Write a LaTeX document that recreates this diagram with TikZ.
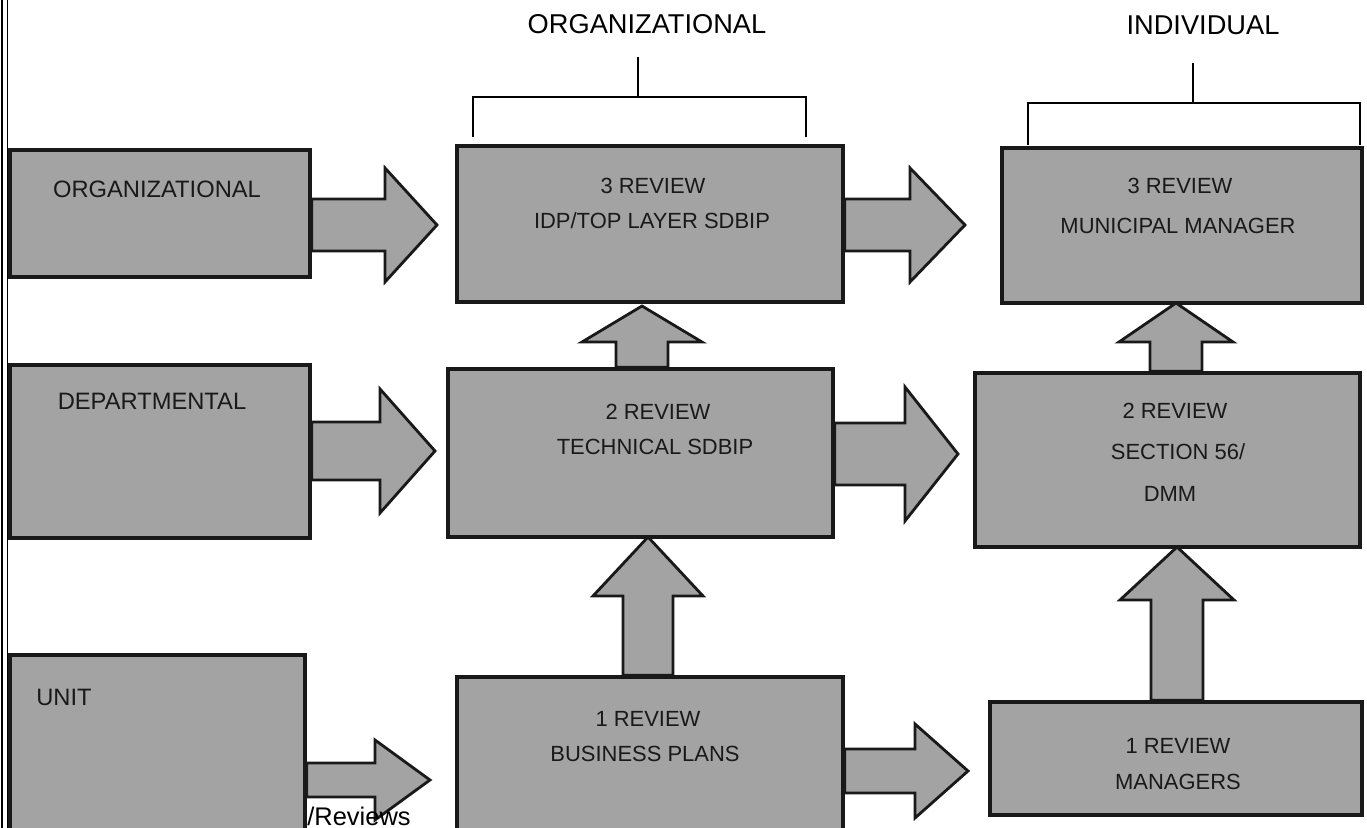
\documentclass[tikz,border=0pt]{standalone}
\usepackage{fontspec}
\setmainfont{Liberation Sans}
\usetikzlibrary{calc,fit}

\definecolor{boxfill}{gray}{0.64}
\definecolor{boxline}{gray}{0.1}

\tikzset{box/.style={draw=boxline,fill=boxfill,line width=1.9pt,inner sep=0pt},
box label/.style={font=\fontsize{12.5}{14}\selectfont,text=black!90,inner sep=0pt},
side label/.style={box label,font=\fontsize{13.5}{15}\selectfont},
heading/.style={font=\fontsize{15.5}{18}\selectfont,inner sep=0pt},
block arrow/.style={draw=boxline,fill=boxfill,line width=1.6pt,line join=miter},
bracket/.style={line width=0.7pt}}

% #1 start, #2 tip, #3 shaft half width, #4 head half width, #5 head length
\newcommand{\rightblock}[5]{%
\draw [block arrow] ($(#1 |- #2)+(0,-#3)$) -- ($(#2)+(-#5,-#3)$) -- ($(#2)+(-#5,-#4)$) -- (#2)
  -- ($(#2)+(-#5,#4)$) -- ($(#2)+(-#5,#3)$) -- ($(#1 |- #2)+(0,#3)$) -- cycle;}
\newcommand{\upblock}[5]{%
\draw [block arrow] ($(#1 -| #2)+(-#3,0)$) -- ($(#2)+(-#3,#5)$) -- ($(#2)+(-#4,#5)$) -- (#2)
  -- ($(#2)+(#4,#5)$) -- ($(#2)+(#3,#5)$) -- ($(#1 -| #2)+(#3,0)$) -- cycle;}

\begin{document}
\begin{tikzpicture}[x=0.02cm,y=-0.02cm]
\clip (0,0) rectangle (1367,828);

%% left margin rule
\draw [line width=1.6pt] (2,0) -- (2,828);
\draw [line width=0.5pt] (7,0) -- (7,828);

%% boxes
\node [box,fit={(10,150) (310,277)}] (org) {};
\node [box,fit={(10,365) (310,538)}] (dept) {};
\node [box,fit={(10,655) (305,840)}] (unit) {};
\node [box,fit={(457,146) (843,302)}] (mid3) {};
\node [box,fit={(448,369) (833,537)}] (mid2) {};
\node [box,fit={(457,677) (843,840)}] (mid1) {};
\node [box,fit={(1002,148) (1362,303)}] (ind3) {};
\node [box,fit={(975,373) (1360,547)}] (ind2) {};
\node [box,fit={(990,702) (1362,815)}] (ind1) {};

%% arrow tips
\coordinate (t1) at (437,225);
\coordinate (t2) at (965,225);
\coordinate (t3) at (435,451);
\coordinate (t4) at (958,454);
\coordinate (t5) at (430,780);
\coordinate (t6) at (968,771);
\coordinate (t7) at (642,306);
\coordinate (t8) at (648,537);
\coordinate (t9) at (1176,303);
\coordinate (t10) at (1177,547);

%% horizontal arrows
\rightblock{org.east}{t1}{26}{57}{52}
\rightblock{mid3.east}{t2}{26}{57}{55}
\rightblock{dept.east}{t3}{29}{62}{55}
\rightblock{mid2.east}{t4}{31}{67}{53}
\rightblock{unit.east}{t5}{17}{40}{55}
\rightblock{mid1.east}{t6}{22}{47}{53}

%% vertical arrows
\upblock{mid2.north}{t7}{26}{60}{36}
\upblock{mid1.north}{t8}{25}{55}{59}
\upblock{ind2.north}{t9}{26}{57}{39}
\upblock{ind1.north}{t10}{26}{57}{53}

%% box labels
\node [side label] (lorg) at (157,189) {ORGANIZATIONAL};
\node [side label] (ldept) at (152,401) {DEPARTMENTAL};
\node [side label,anchor=west] (lunit) at (36,697) {UNIT};
\node [box label] (lmid3a) at (653,186) {3 REVIEW};
\node [box label] (lmid3b) at (652,221) {IDP/TOP LAYER SDBIP};
\node [box label] (lmid2a) at (658,412) {2 REVIEW};
\node [box label] (lmid2b) at (655,447) {TECHNICAL SDBIP};
\node [box label] (lmid1a) at (648,719) {1 REVIEW};
\node [box label] (lmid1b) at (645,754) {BUSINESS PLANS};
\node [box label] (lind3a) at (1180,186) {3 REVIEW};
\node [box label] (lind3b) at (1178,226) {MUNICIPAL MANAGER};
\node [box label] (lind2a) at (1175,411) {2 REVIEW};
\node [box label] (lind2b) at (1178,452) {SECTION 56/};
\node [box label] (lind2c) at (1170,494) {DMM};
\node [box label] (lind1a) at (1178,746) {1 REVIEW};
\node [box label] (lind1b) at (1178,782) {MANAGERS};
\node [heading,font=\fontsize{14.5}{17}\selectfont,anchor=base west] (lrev) at (307,825) {/Reviews};

%% column headings and brackets
\node [heading] (horg) at (647,24) {ORGANIZATIONAL};
\node [heading] (hind) at (1203,25) {INDIVIDUAL};
\coordinate (borg) at (638,57);
\coordinate (bind) at (1193,63);
\draw [bracket] (borg) -- ++(0,40);
\draw [bracket] (473,137) -- (473,97) -- (806,97) -- (806,137);
\draw [bracket] (bind) -- ++(0,40);
\draw [bracket] (1028,145) -- (1028,103) -- (1360,103) -- (1360,145);

\end{tikzpicture}
\end{document}
